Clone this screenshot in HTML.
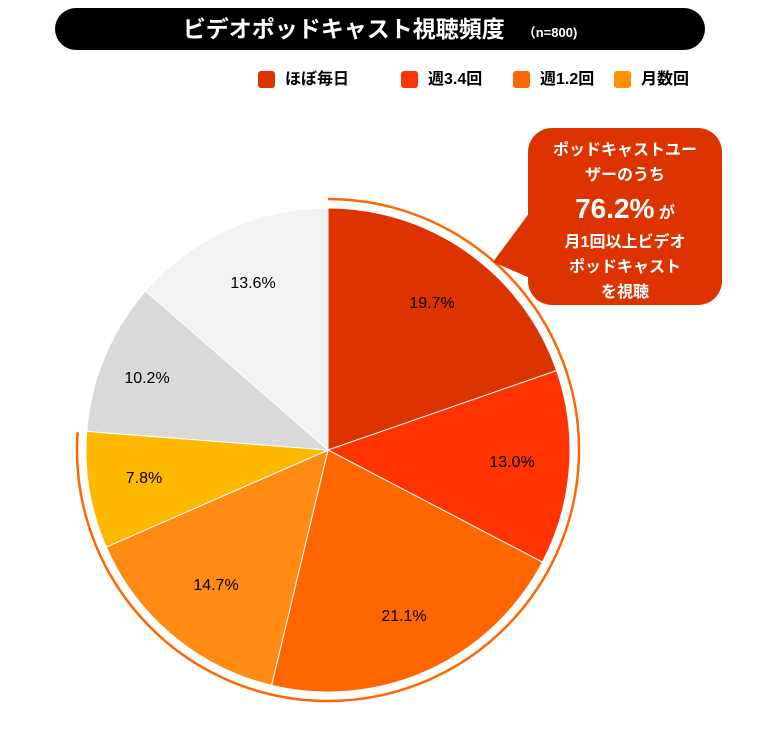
<!DOCTYPE html>
<html><head><meta charset="utf-8"><style>
body{margin:0;background:#fff;width:772px;height:740px;overflow:hidden;font-family:"Liberation Sans","Noto Sans CJK JP",sans-serif}
.t{position:absolute;left:55px;top:8px;width:650px;height:42px;background:#000;border-radius:21px;color:#fff;font-weight:bold;font-size:23px;line-height:42px;text-align:center}
.t small{font-size:13px;margin-left:18px}
.lg{position:absolute;top:71px;font-size:16px;font-weight:bold;line-height:18px}
.lg i{display:inline-block;width:17px;height:17px;border-radius:3px;vertical-align:top;margin-right:10px}
.co{position:absolute;left:528px;top:128px;width:194px;height:177px;background:#DD3300;border-radius:24px;color:#fff;font-weight:bold;text-align:center;font-size:16px;line-height:25px;padding-top:10px;box-sizing:border-box}
</style></head><body>
<div class="t">ビデオポッドキャスト視聴頻度<small>（n=800)</small></div>
<div class="lg" style="left:258px"><i style="background:#DD3300"></i>ほぼ毎日</div>
<div class="lg" style="left:401px"><i style="background:#FF3300"></i>週3.4回</div>
<div class="lg" style="left:513px"><i style="background:#FF6600"></i>週1.2回</div>
<div class="lg" style="left:614px"><i style="background:#FF9000"></i>月数回</div>
<svg id="s" width="772" height="740" style="position:absolute;left:0;top:0"></svg>
<div class="co">ポッドキャストユー<br>ザーのうち<br><span style="font-size:28px;line-height:42px">76.2%</span> が<br>月1回以上ビデオ<br>ポッドキャスト<br>を視聴</div>
<script>
var cx=328,cy=450,r=242,d=[[19.7,"#DD3300"],[13.0,"#FF3300"],[21.1,"#FF6600"],[14.7,"#FF8A14"],[7.8,"#FFB800"],[10.2,"#D9D9D9"],[13.6,"#F2F2F2"]];
var tot=100.1,a=0,h="";
function p(f,rr){var t=f*2*Math.PI;return [cx+rr*Math.sin(t),cy-rr*Math.cos(t)];}
var lab=[[432,308],[512,467],[404,621],[216,590],[144,483],[147,383],[253,288]];
d.forEach(function(v,i){var s=p(a/tot,r),e=p((a+v[0])/tot,r);var lg=v[0]/tot>0.5?1:0;
h+='<path d="M'+cx+','+cy+'L'+s[0]+','+s[1]+'A'+r+','+r+' 0 '+lg+' 1 '+e[0]+','+e[1]+'Z" fill="'+v[1]+'" stroke="#fff" stroke-width="1"/>';
h+='<text x="'+lab[i][0]+'" y="'+lab[i][1]+'" text-anchor="middle" font-size="16" fill="#000" font-family="Liberation Sans">'+v[0].toFixed(1)+'%</text>';a+=v[0];});
var R=251,s=p(0,R),e=p(0.762*100/tot,R);
h+='<path d="M'+s[0]+','+s[1]+'A'+R+','+R+' 0 1 1 '+e[0]+','+e[1]+'" fill="none" stroke="#FF6600" stroke-width="2.5"/>';
h+='<polygon points="530,212 493,262 530,278" fill="#DD3300"/>';
document.getElementById("s").innerHTML=h;
</script>
</body></html>
